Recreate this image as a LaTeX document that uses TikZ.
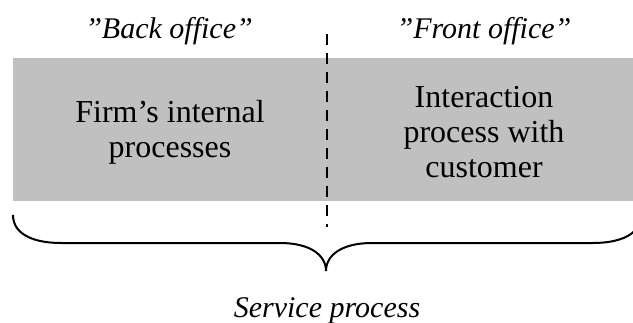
\documentclass[tikz,border=0pt]{standalone}
\usepackage{fontspec}
\setmainfont{Liberation Serif}
\usepackage{xcolor}
\usetikzlibrary{positioning}
\definecolor{boxGray}{HTML}{C0C0C0}
\tikzstyle{officeLabel} = [inner sep=0, anchor=base, font=\fontsize{15}{17}\selectfont\itshape]
\tikzstyle{procText} = [inner sep=0, anchor=base, align=center, font=\fontsize{16}{17.5}\selectfont]
\tikzstyle{splitLine} = [line width=1pt, dash pattern=on 5.5pt off 4pt]
\tikzstyle{braceLine} = [line width=1pt]

\begin{document}
\begin{tikzpicture}[x=0.5pt, y=-0.5pt]
  \useasboundingbox (0,0) rectangle (633,322);
  \clip (0,0) rectangle (633,322);
  % grey band
  \fill[boxGray] (13,58) rectangle (633,201);
  \node[inner sep=0,minimum size=0] (band) at (323,129.5) {};

  % base anchor sits on the last line
  \node[officeLabel] (back) at (169,38) {''Back office''};
  \node[officeLabel] (front) at (484,38) {''Front office''};
  \node[procText] (firm) at (170,157) {Firm's internal\\processes};
  \node[procText] (inter) at (484,177) {Interaction\\process with\\customer};
  \node[officeLabel] (serv) at (327,317) {Service process};

  % dividing line
  \coordinate (divTop) at (327,34);
  \coordinate (divBot) at (327,227);
  \draw[splitLine] (divTop) -- (divBot);

  % brace under the band
  \coordinate (bl) at (13,215);
  \coordinate (br) at (641,215);
  \coordinate (tip) at (326,271);
  \draw[braceLine] (bl) .. controls (13,235) and (35,243) .. (61,243) -- (280,243)
     .. controls (310,243) and (326,255) .. (tip)
     .. controls (326,255) and (342,243) .. (372,243) -- (593,243)
     .. controls (619,243) and (641,235) .. (br);
\end{tikzpicture}
\end{document}
